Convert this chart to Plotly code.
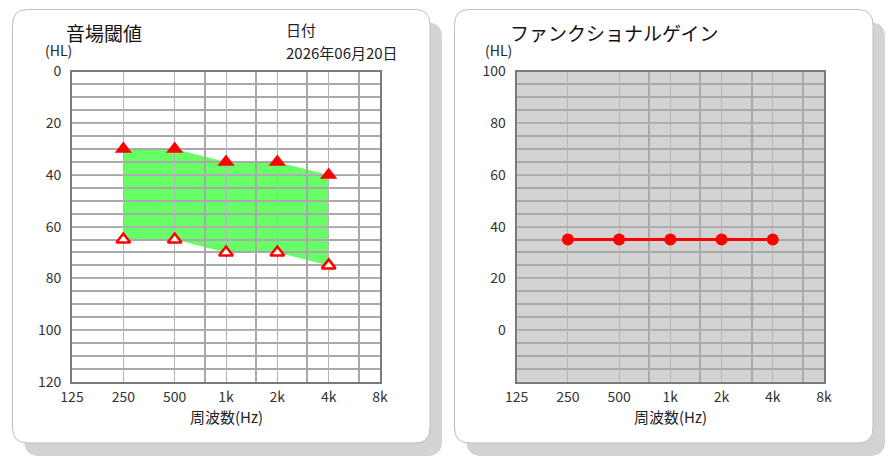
import math
import plotly.graph_objects as go

W, H = 895, 466

# ---------------- data ----------------
freq_ticks = [125, 250, 500, 1000, 2000, 4000, 8000]
freq_tick_text = ["125", "250", "500", "1k", "2k", "4k", "8k"]
half_octaves = [750, 1500, 3000, 6000]

freqs = [250, 500, 1000, 2000, 4000]
aided_thr = [30, 30, 35, 35, 40]        # filled triangles
unaided_thr = [65, 65, 70, 70, 75]      # open triangles
functional_gain = [35, 35, 35, 35, 35]

left_yticks = [0, 20, 40, 60, 80, 100, 120]
right_yticks = [0, 20, 40, 60, 80, 100]

# ---------------- helpers ----------------
def px(x):
    return x / W

def py(y):
    return 1 - y / H

def rounded_rect(x0, y0, x1, y1, r):
    pts = [
        f"M{px(x0 + r)},{py(y0)}",
        f"L{px(x1 - r)},{py(y0)}",
        f"Q{px(x1)},{py(y0)} {px(x1)},{py(y0 + r)}",
        f"L{px(x1)},{py(y1 - r)}",
        f"Q{px(x1)},{py(y1)} {px(x1 - r)},{py(y1)}",
        f"L{px(x0 + r)},{py(y1)}",
        f"Q{px(x0)},{py(y1)} {px(x0)},{py(y1 - r)}",
        f"L{px(x0)},{py(y0 + r)}",
        f"Q{px(x0)},{py(y0)} {px(x0 + r)},{py(y0)}",
        "Z",
    ]
    return " ".join(pts)

FONT = "Noto Sans CJK JP"
xrange_log = [math.log10(125), math.log10(8000)]

L_dom = [px(72), px(380)]
R_dom = [px(516.7), px(824)]
Y_dom = [py(381.7), py(71.5)]

GRID_MAJOR = "#b4b4b4"
GRID_MINOR = "#a9a9a9"
FRAME = "#7a7a7a"

fig = go.Figure()

# fill (on a bottom subplot so the grid of the visible one lies on top)
fig.add_trace(go.Scatter(x=freqs, y=aided_thr, mode="lines",
                         line=dict(width=0, color="#66ff66"),
                         xaxis="x", yaxis="y", showlegend=False, hoverinfo="skip"))
fig.add_trace(go.Scatter(x=freqs, y=unaided_thr, mode="lines",
                         line=dict(width=0, color="#66ff66"), fill="tonexty",
                         fillcolor="#66ff66",
                         xaxis="x", yaxis="y", showlegend=False, hoverinfo="skip"))

# right panel: functional gain
fig.add_trace(go.Scatter(x=freqs, y=functional_gain, mode="lines+markers",
                         line=dict(color="#ff0000", width=3),
                         marker=dict(symbol="circle", size=12, color="#ff0000"),
                         xaxis="x2", yaxis="y2", showlegend=False))

# left panel markers
fig.add_trace(go.Scatter(x=freqs, y=aided_thr, mode="markers",
                         marker=dict(symbol="triangle-up", size=15, color="#ff0000",
                                     line=dict(width=0)),
                         xaxis="x3", yaxis="y3", showlegend=False))
fig.add_trace(go.Scatter(x=freqs, y=unaided_thr, mode="markers",
                         marker=dict(symbol="triangle-up", size=12, color="#ffffff",
                                     line=dict(width=2.5, color="#ff0000")),
                         xaxis="x3", yaxis="y3", showlegend=False))

def xaxis_cfg(domain, anchor, visible=True):
    if not visible:
        return dict(domain=domain, anchor=anchor, type="log", range=xrange_log,
                    visible=False, showgrid=False, zeroline=False, fixedrange=True,
                    automargin=False)
    return dict(
        domain=domain, anchor=anchor, type="log", range=xrange_log,
        tickmode="array", tickvals=freq_ticks, ticktext=freq_tick_text,
        tickfont=dict(family=FONT, size=14, color="#333333"),
        ticks="", ticklabelstandoff=1,
        showgrid=True, gridcolor=GRID_MAJOR, gridwidth=1,
        minor=dict(tickmode="array", tickvals=half_octaves, showgrid=True,
                   gridcolor=GRID_MINOR, gridwidth=2, ticks=""),
        showline=True, mirror=True, linecolor=FRAME, linewidth=2,
        zeroline=False, fixedrange=True, automargin=False,
    )

def yaxis_cfg(domain, anchor, rng, tickvals, visible=True):
    if not visible:
        return dict(domain=domain, anchor=anchor, range=rng, visible=False,
                    showgrid=False, zeroline=False, fixedrange=True,
                    automargin=False)
    return dict(
        domain=domain, anchor=anchor, range=rng,
        tickmode="array", tickvals=tickvals,
        tickfont=dict(family=FONT, size=14, color="#333333"),
        ticks="", ticklabelstandoff=6,
        showgrid=True, gridcolor=GRID_MAJOR, gridwidth=1,
        minor=dict(dtick=5, tick0=0, showgrid=True, gridcolor=GRID_MINOR,
                   gridwidth=2, ticks=""),
        showline=True, mirror=True, linecolor=FRAME, linewidth=2,
        zeroline=False, fixedrange=True, automargin=False,
    )

shapes = []
# cards with shadows
for (x0, y0, x1, y1) in [(12.5, 9.5, 430, 443), (454.5, 9.5, 873, 443)]:
    shapes.append(dict(type="path", xref="paper", yref="paper", layer="below",
                       path=rounded_rect(x0 + 12, y0 + 13, x1 + 12, y1 + 13, 15),
                       fillcolor="#d3d3d3", line=dict(width=0)))
    shapes.append(dict(type="path", xref="paper", yref="paper", layer="below",
                       path=rounded_rect(x0, y0, x1, y1, 15),
                       fillcolor="#ffffff", line=dict(width=1, color="#bdbdbd")))
# right plot background
shapes.append(dict(type="rect", xref="x2 domain", yref="y2 domain", layer="below",
                   x0=0, x1=1, y0=0, y1=1, fillcolor="#d3d3d3", line=dict(width=0)))

def ann(text, x, y, size, xanchor="left", yanchor="middle", color="#222222"):
    return dict(text=text, x=px(x), y=py(y), xref="paper", yref="paper",
                xanchor=xanchor, yanchor=yanchor, showarrow=False, borderpad=0,
                font=dict(family=FONT, size=size, color=color))

annotations = [
    ann("音場閾値", 65, 33, 19, color="#111111"),
    ann("日付", 285, 41.5, 15, yanchor="bottom"),
    ann("2026年06月20日", 285, 41.5, 15, yanchor="top"),
    ann("(HL)", 44, 61.5, 14, yanchor="bottom"),
    ann("周波数(Hz)", 226, 416, 15, xanchor="center"),
    ann("ファンクショナルゲイン", 509, 33, 19, color="#111111"),
    ann("(HL)", 484, 61.5, 14, yanchor="bottom"),
    ann("周波数(Hz)", 670, 416, 15, xanchor="center"),
]

fig.update_layout(
    width=W, height=H,
    margin=dict(l=0, r=0, t=0, b=0, autoexpand=False),
    paper_bgcolor="#ffffff", plot_bgcolor="rgba(0,0,0,0)",
    showlegend=False,
    xaxis=xaxis_cfg(L_dom, "y", visible=False),
    yaxis=yaxis_cfg(Y_dom, "x", [120, 0], left_yticks, visible=False),
    xaxis2=xaxis_cfg(R_dom, "y2"),
    yaxis2=yaxis_cfg(Y_dom, "x2", [-20, 100], right_yticks),
    xaxis3=xaxis_cfg(L_dom, "y3"),
    yaxis3=yaxis_cfg(Y_dom, "x3", [120, 0], left_yticks),
    shapes=shapes,
    annotations=annotations,
)

fig.write_html("out.html")
